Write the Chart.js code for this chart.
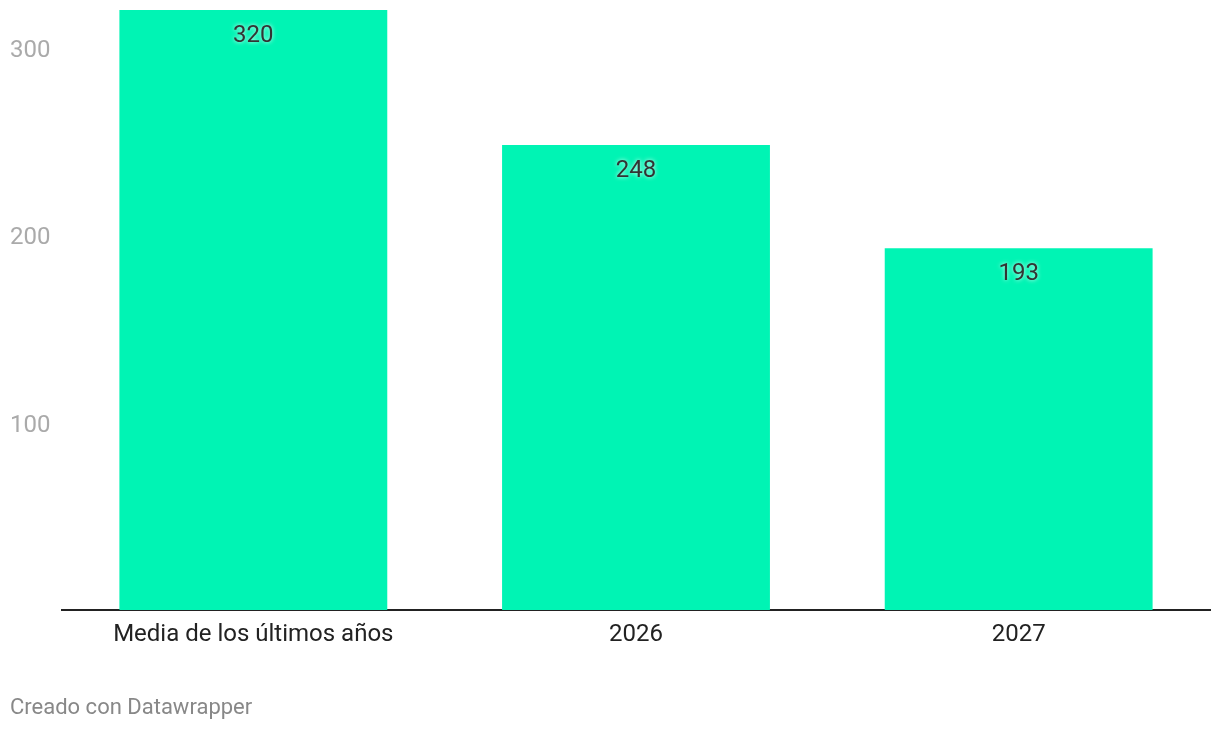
<!DOCTYPE html>
<html>
<head>
<meta charset="utf-8">
<script src="https://cdn.jsdelivr.net/npm/chart.js@4"></script>
<style>
  body { margin: 0; background: #fff; }
  #wrap { position: relative; width: 1220px; height: 730px; }
</style>
</head>
<body>
<div id="wrap"><canvas id="myChart" width="1220" height="730"></canvas></div>
<script>
const categories = ['Media de los últimos años', '2026', '2027'];
const values = [320, 248, 193];
const yTicks = [100, 200, 300];
const footerText = 'Creado con Datawrapper';

const barColor = '#00f4b4';

// value labels inside the top of each bar + the footer note
const labelsPlugin = {
  id: 'labels',
  afterDatasetsDraw(chart) {
    const ctx = chart.ctx;
    const meta = chart.getDatasetMeta(0);
    ctx.save();
    ctx.font = '24px Roboto';
    ctx.textAlign = 'center';
    ctx.textBaseline = 'middle';
    meta.data.forEach((bar, i) => {
      ctx.shadowColor = 'rgba(255,255,255,0.9)';
      ctx.shadowBlur = 4;
      ctx.fillStyle = '#333333';
      ctx.fillText(values[i], bar.x, bar.y + 26);
    });
    ctx.restore();
  },
  afterDraw(chart) {
    const ctx = chart.ctx;
    ctx.save();
    ctx.font = '22px Roboto';
    ctx.fillStyle = '#888888';
    ctx.textAlign = 'left';
    ctx.textBaseline = 'middle';
    ctx.fillText(footerText, 10, 708);
    ctx.restore();
  }
};

const ctx = document.getElementById('myChart').getContext('2d');
const myChart = new Chart(ctx, {
  type: 'bar',
  data: {
    labels: categories,
    datasets: [{
      data: values,
      backgroundColor: barColor,
      borderWidth: 0,
      categoryPercentage: 1,
      barPercentage: 0.7
    }]
  },
  options: {
    responsive: false,
    animation: false,
    devicePixelRatio: 1,
    layout: { padding: { top: 10, left: 10, right: 10, bottom: 0 } },
    plugins: {
      legend: { display: false },
      tooltip: { enabled: false }
    },
    scales: {
      x: {
        grid: { display: false, drawTicks: false },
        border: { display: true, color: '#222222', width: 2 },
        ticks: {
          color: '#222222',
          font: { family: 'Roboto', size: 24 },
          padding: 11,
          maxRotation: 0
        },
        afterFit(scale) {
          scale.height = 120;
          scale.paddingLeft = 0;
          scale.paddingRight = 0;
        }
      },
      y: {
        min: 0,
        max: 320,
        grid: { display: false, drawTicks: false },
        border: { display: false },
        ticks: {
          color: '#aaaaaa',
          font: { family: 'Roboto', size: 24 },
          crossAlign: 'far',
          padding: 0,
          labelOffset: 3
        },
        afterBuildTicks(scale) { scale.ticks = yTicks.map(v => ({ value: v })); },
        afterFit(scale) {
          scale.width = 52;
          scale.paddingTop = 0;
          scale.paddingBottom = 0;
        }
      }
    }
  },
  plugins: [labelsPlugin]
});
</script>
</body>
</html>
